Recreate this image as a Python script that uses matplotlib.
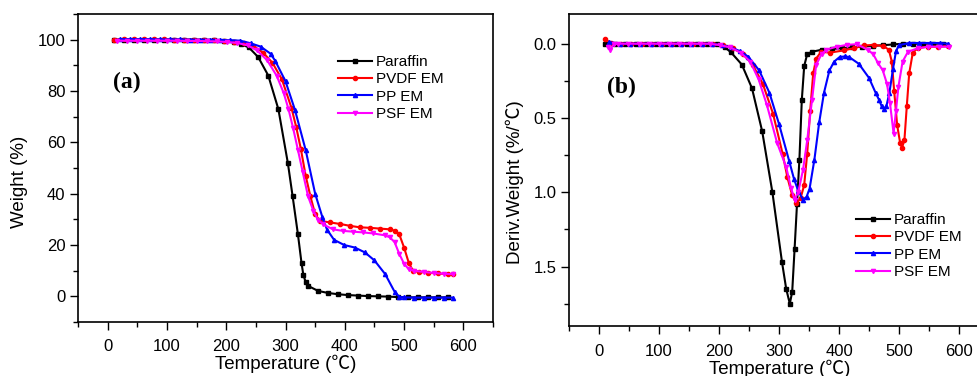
import matplotlib
matplotlib.use("Agg")
import matplotlib.pyplot as plt
from matplotlib.ticker import MultipleLocator

plt.rcParams['font.family'] = ['Liberation Sans', 'Noto Sans CJK SC', 'DejaVu Sans']

labels = ["Paraffin", "PVDF EM", "PP EM", "PSF EM"]
colors = ["#000000", "#ff0000", "#0000ff", "#ff00ff"]
markers = ["s", "o", "^", "v"]

# ---- (a) TGA: weight (%) vs temperature
t_par_a = [10, 27, 44, 61, 78, 95, 112, 129, 146, 163, 180, 197, 213, 225, 238, 254, 271, 288, 304, 312,
           321, 327, 330, 334, 338, 355, 372, 389, 405, 422, 439, 456, 473, 490, 506, 523, 540, 557, 574]
w_par_a = [100, 100, 100, 100, 100, 100, 100, 100, 100, 99.8, 99.7, 99.4, 99.0, 98.2, 97.0, 93.2, 86.0, 72.9, 51.9, 39.0,
           24.1, 13.0, 8.5, 5.5, 4.1, 2.1, 1.3, 0.8, 0.5, 0.3, 0.1, 0.0, -0.1, -0.3, -0.4, -0.4, -0.4, -0.4, -0.4]

t_pvdf_a = [10, 27, 44, 61, 78, 95, 112, 129, 146, 163, 180, 197, 213, 230, 246, 262, 278, 294, 310, 318, 326,
            334, 342, 350, 358, 375, 392, 408, 425, 442, 459, 476, 484, 492, 500, 508, 515, 525, 540, 557, 574, 582]
w_pvdf_a = [100, 100.2, 100.2, 100.2, 100.1, 100.1, 100, 100, 100, 100, 99.8, 99.6, 99.2, 98.6, 97.5, 95.0, 91.0, 84.5, 73.5, 66.0, 57.3,
            47.0, 39.0, 32.0, 29.4, 28.8, 28.2, 27.5, 26.9, 26.7, 26.4, 26.1, 25.6, 24.1, 19.0, 13.0, 10.0, 9.5, 9.2, 8.9, 8.6, 8.6]

t_pp_a = [20, 37, 54, 71, 88, 105, 122, 139, 156, 173, 190, 207, 224, 241, 258, 275, 283, 300, 316, 334, 350,
          362, 370, 382, 399, 417, 434, 450, 468, 484, 492, 500, 517, 534, 551, 568, 582]
w_pp_a = [100.2, 100.2, 100.2, 100.2, 100.1, 100.1, 100.1, 100, 100, 100, 99.9, 99.8, 99.6, 98.6, 97.3, 94.5, 91.6, 83.8, 72.6, 57.0, 40.0,
          31.0, 26.0, 22.0, 20.0, 19.0, 17.1, 14.0, 8.7, 1.8, -0.2, -0.4, -0.5, -0.5, -0.5, -0.5, -0.5]

t_psf_a = [15, 32, 49, 66, 83, 100, 117, 134, 151, 168, 185, 202, 219, 236, 252, 269, 285, 297, 305, 313, 321,
           329, 338, 347, 355, 364, 380, 397, 414, 431, 448, 467, 476, 484, 492, 500, 508, 516, 533, 550, 567, 583]
w_psf_a = [99.6, 99.6, 99.6, 99.6, 99.6, 99.6, 99.6, 99.5, 99.5, 99.4, 99.3, 99.1, 98.7, 97.8, 95.8, 92.0, 86.0, 79.2, 73.0, 65.4, 57.0,
           48.5, 39.0, 33.3, 29.8, 28.0, 26.1, 25.5, 25.2, 24.9, 24.5, 23.8, 23.0, 21.1, 16.5, 12.7, 10.5, 10.0, 9.5, 9.1, 8.8, 8.6]

# ---- (b) DTG: deriv. weight (%/C) vs temperature
t_par_b = [10, 27, 44, 61, 78, 95, 112, 129, 146, 163, 180, 197, 210, 220, 238, 255, 272, 289, 305, 312, 318,
           322, 326, 330, 334, 338, 342, 347, 355, 372, 389, 405, 422, 439, 456, 473, 490, 506, 523, 540, 557, 574]
d_par_b = [0.0, 0.0, 0.0, 0.0, 0.0, 0.0, 0.0, 0.0, 0.0, 0.0, 0.0, 0.005, 0.025, 0.058, 0.14, 0.30, 0.59, 1.00, 1.47, 1.65, 1.75,
           1.67, 1.38, 1.08, 0.78, 0.38, 0.15, 0.07, 0.054, 0.04, 0.035, 0.03, 0.025, 0.02, 0.015, 0.01, 0.005, 0.0, 0.0, 0.0, 0.0, 0.0]

t_pvdf_b = [10, 20, 37, 54, 71, 88, 105, 122, 139, 156, 173, 190, 207, 223, 240, 256, 273, 290, 306, 314, 322,
            329, 336, 342, 347, 352, 357, 362, 370, 385, 408, 425, 441, 458, 474, 483, 488, 492, 497, 502, 505,
            509, 513, 517, 523, 531, 548, 565, 582]
d_pvdf_b = [-0.03, -0.005, 0.0, 0.0, 0.0, 0.0, 0.0, 0.0, 0.0, 0.0, 0.0, 0.0, 0.01, 0.03, 0.07, 0.14, 0.27, 0.47, 0.74, 0.90, 1.02,
            1.075, 1.04, 0.95, 0.74, 0.45, 0.20, 0.10, 0.055, 0.06, 0.045, 0.03, 0.012, 0.008, 0.016, 0.04, 0.12, 0.32, 0.55, 0.67, 0.70,
            0.65, 0.42, 0.20, 0.06, 0.03, 0.02, 0.02, 0.015]

t_pp_b = [17, 35, 52, 69, 86, 103, 120, 137, 154, 171, 188, 205, 220, 235, 249, 267, 284, 300, 317, 325, 332,
          340, 346, 351, 359, 367, 375, 384, 392, 401, 410, 417, 433, 450, 461, 467, 471, 475, 479, 484, 490,
          495, 500, 517, 534, 551, 568, 582]
d_pp_b = [-0.01, 0.0, 0.0, 0.0, 0.0, 0.0, 0.0, 0.0, 0.0, 0.0, 0.0, 0.01, 0.025, 0.05, 0.088, 0.18, 0.33, 0.54, 0.79, 0.91, 0.99,
          1.05, 1.03, 0.975, 0.78, 0.53, 0.33, 0.18, 0.12, 0.09, 0.085, 0.09, 0.135, 0.23, 0.33, 0.38, 0.42, 0.44, 0.42, 0.33, 0.17,
          0.05, 0.01, -0.005, -0.005, -0.005, -0.005, 0.0]

t_psf_b = [15, 18, 25, 32, 49, 66, 83, 100, 117, 134, 151, 168, 185, 202, 219, 236, 252, 266, 280, 297, 312,
           320, 326, 332, 340, 347, 355, 362, 371, 379, 396, 413, 430, 448, 457, 465, 473, 480, 485, 491, 495,
           499, 506, 515, 532, 549, 566, 583]
d_psf_b = [0.02, 0.04, 0.005, 0.0, 0.0, 0.0, 0.0, 0.0, 0.0, 0.0, 0.0, 0.0, 0.0, 0.01, 0.025, 0.06, 0.12, 0.24, 0.415, 0.67, 0.83,
           0.97, 1.05, 1.0, 0.85, 0.65, 0.38, 0.14, 0.07, 0.04, 0.02, 0.008, 0.003, 0.042, 0.07, 0.13, 0.18, 0.27, 0.40, 0.605, 0.45,
           0.29, 0.12, 0.054, 0.03, 0.02, 0.02, 0.02]


def style_axes(ax):
    for sp in ax.spines.values():
        sp.set_linewidth(1.2)
    ax.tick_params(which="both", direction="out", top=False, right=False, labelsize=12, width=1.0)
    ax.tick_params(which="major", length=6, pad=3)
    ax.tick_params(which="minor", length=3.5)
    ax.xaxis.set_major_locator(MultipleLocator(100))
    ax.xaxis.set_minor_locator(MultipleLocator(50))
    ax.set_xlim(-50, 650)


fig = plt.figure(figsize=(9.77, 3.76), dpi=100)
W, H = 977.0, 376.0
ax1 = fig.add_axes([78 / W, 1 - 322 / H, 415 / W, 308 / H])
ax2 = fig.add_axes([569 / W, 1 - 326 / H, 420 / W, 312 / H])

series_a = [(t_par_a, w_par_a), (t_pvdf_a, w_pvdf_a), (t_pp_a, w_pp_a), (t_psf_a, w_psf_a)]
series_b = [(t_par_b, d_par_b), (t_pvdf_b, d_pvdf_b), (t_pp_b, d_pp_b), (t_psf_b, d_psf_b)]

for (x, y), lab, c, m in zip(series_a, labels, colors, markers):
    ax1.plot(x, y, color=c, marker=m, markersize=3, lw=1.5, label=lab)
for (x, y), lab, c, m in zip(series_b, labels, colors, markers):
    ax2.plot(x, y, color=c, marker=m, markersize=3, lw=1.5, label=lab)

style_axes(ax1)
ax1.set_ylim(-10, 110)
ax1.yaxis.set_major_locator(MultipleLocator(20))
ax1.yaxis.set_minor_locator(MultipleLocator(10))
ax1.set_yticks([0, 20, 40, 60, 80, 100])

style_axes(ax2)
ax2.set_ylim(1.9, -0.2)
ax2.set_yticks([0.0, 0.5, 1.0, 1.5])
ax2.yaxis.set_minor_locator(MultipleLocator(0.25))
ax2.tick_params(axis="x", pad=7)
ax1.tick_params(axis="x", pad=6)

leg_kw = dict(frameon=False, fontsize=11, handlelength=2.2, handletextpad=0.3,
              labelspacing=0.22, borderpad=0, borderaxespad=0, loc="upper left",
              bbox_transform=fig.transFigure)
ax1.legend(bbox_to_anchor=(338 / W, 1 - 55 / H), **leg_kw)
ax2.legend(bbox_to_anchor=(856 / W, 1 - 213 / H), **leg_kw)

fig.text(127 / W, 1 - 82 / H, "(a)", fontsize=17, fontweight="bold", family="Liberation Serif",
         ha="center", va="center")
fig.text(621 / W, 1 - 87 / H, "(b)", fontsize=17, fontweight="bold", family="Liberation Serif",
         ha="center", va="center")

fig.text(20 / W, 1 - 182 / H, "Weight (%)", fontsize=13.5, rotation=90, ha="center", va="center")
fig.text(515 / W, 1 - 182 / H, "Deriv.Weight (%/℃)", fontsize=13.5, rotation=90, ha="center", va="center")
fig.text(286 / W, 1 - 364 / H, "Temperature (℃)", fontsize=13.5, ha="center", va="center")
fig.text(780 / W, 1 - 369 / H, "Temperature (℃)", fontsize=13.5, ha="center", va="center")

fig.savefig("out.png", dpi=100)
